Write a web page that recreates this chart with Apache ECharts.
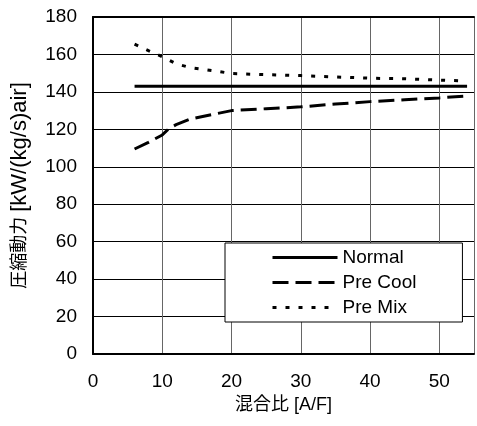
<!DOCTYPE html>
<html>
<head>
<meta charset="utf-8">
<script src="https://cdn.jsdelivr.net/npm/echarts@6/dist/echarts.min.js"></script>
<style>html,body{margin:0;padding:0;background:#fff}#c{width:477px;height:426px}</style>
</head>
<body>
<div id="c"></div>
<script>
const xTicks = [0, 10, 20, 30, 40, 50];
const yTicks = [0, 20, 40, 60, 80, 100, 120, 140, 160, 180];
const normalX = [6, 54];
const normalY = [143, 143];
const preCoolX = [6, 8, 10, 11, 12, 14, 16, 18, 20, 25, 30, 35, 40, 45, 50, 54];
const preCoolY = [109.5, 113, 117, 120.5, 122.5, 125.5, 127, 128.5, 130, 131, 132, 133.5, 134.8, 135.8, 136.8, 137.8];
const preMixX = [6, 8, 10, 12, 14, 16, 18, 20, 25, 30, 35, 40, 45, 50, 54];
const preMixY = [165.5, 162, 158.8, 155, 153, 152, 151, 149.8, 149.2, 148.7, 148, 147.3, 147, 146.3, 145.8];
const seriesNames = ['Normal', 'Pre Cool', 'Pre Mix'];
const xName = '混合比 [A/F]';
const yNameCJK = '圧縮動力';
const yNameUnit = '[kW/(kg/s)air]';

const zip = (xs, ys) => xs.map((x, i) => [x, ys[i]]);
const FONT = "'Liberation Sans', Arial, 'Noto Sans CJK JP', sans-serif";

const chart = echarts.init(document.getElementById('c'), null, {renderer: 'canvas'});
chart.setOption({
  animation: false,
  backgroundColor: '#fff',
  textStyle: {fontFamily: FONT},
  grid: {left: 93, top: 17, right: 0, bottom: 72, containLabel: false},
  xAxis: [{
    type: 'value', min: 0, max: 55, interval: 10,
    name: xName, nameLocation: 'middle', nameGap: 42,
    nameTextStyle: {fontSize: 18, color: '#000', fontFamily: FONT},
    axisLine: {show: true, lineStyle: {color: '#000', width: 2}},
    axisTick: {show: false},
    axisLabel: {fontSize: 19, color: '#000', margin: 18, fontFamily: FONT,
      formatter: v => xTicks.includes(v) ? String(v) : ''},
    splitLine: {show: true, lineStyle: {color: '#666', width: 1}}
  }, {
    type: 'value', min: 0, max: 55, position: 'top',
    axisLine: {show: true, lineStyle: {color: '#000', width: 2}},
    axisTick: {show: false}, axisLabel: {show: false}, splitLine: {show: false}
  }],
  yAxis: {
    type: 'value', min: 0, max: 180, interval: 20,
    name: '{c|' + yNameCJK + '} {u|' + yNameUnit + '}',
    nameLocation: 'middle', nameGap: 62, nameRotate: 90,
    nameTextStyle: {fontSize: 18, color: '#000', fontFamily: FONT, padding: [0, 0, 0, 0],
      rich: {
        c: {fontSize: 18, color: '#000', fontFamily: FONT},
        u: {fontSize: 22, color: '#000', fontFamily: FONT}
      }},
    axisLine: {show: true, lineStyle: {color: '#000', width: 2}},
    axisTick: {show: false},
    axisLabel: {fontSize: 19, color: '#000', margin: 16, fontFamily: FONT,
      formatter: v => yTicks.includes(v) ? String(v) : ''},
    splitLine: {show: true, lineStyle: {color: '#000', width: 1}}
  },
  legend: {
    show: true,
    orient: 'vertical', left: 225, top: 243,
    data: seriesNames,
    itemWidth: 65, itemHeight: 14, itemGap: 6,
    padding: [5, 46, 5, 46],
    backgroundColor: '#fff', borderColor: '#000', borderWidth: 1,
    itemStyle: {opacity: 0},
    lineStyle: {width: 3},
    textStyle: {fontSize: 19, lineHeight: 19, color: '#000', fontFamily: FONT}
  },
  series: [{
    name: seriesNames[0], type: 'line', data: zip(normalX, normalY),
    showSymbol: false, symbol: 'none',
    lineStyle: {color: '#000', width: 3, type: 'solid'},
    itemStyle: {color: '#000'}
  }, {
    name: seriesNames[1], type: 'line', data: zip(preCoolX, preCoolY),
    showSymbol: false, symbol: 'none',
    lineStyle: {color: '#000', width: 3, type: [16, 7]},
    itemStyle: {color: '#000'}
  }, {
    name: seriesNames[2], type: 'line', data: zip(preMixX, preMixY),
    showSymbol: false, symbol: 'none',
    lineStyle: {color: '#000', width: 3, type: [4, 9]},
    itemStyle: {color: '#000'}
  }]
});
</script>
</body>
</html>
